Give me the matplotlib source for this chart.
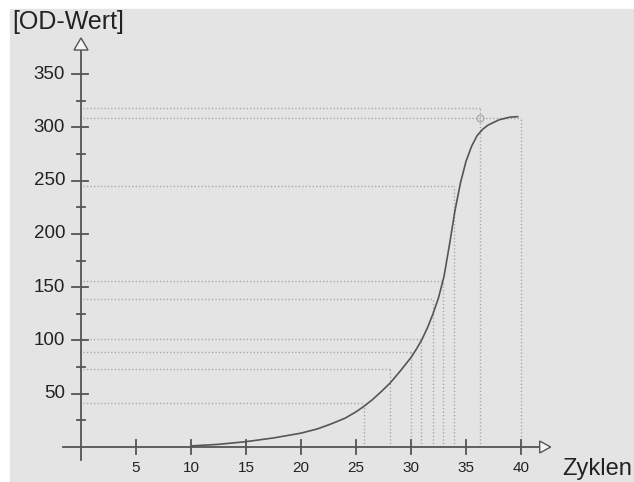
import matplotlib
matplotlib.use("Agg")
import matplotlib.pyplot as plt
from matplotlib.patches import Rectangle, Polygon

# traced curve (Zyklen vs OD-Wert)
cycles = [10, 12.5, 15, 17.5, 20, 21.5, 22.7, 24.0, 25.0, 25.7, 26.5, 27.3, 28.1,
          29.0, 30.0, 30.5, 31.0, 31.5, 32.0, 32.5, 33.0, 33.5, 34.0, 34.5,
          35.0, 35.5, 36.0, 36.5, 37.0, 38.0, 39.0, 39.7]
od = [1, 2.5, 5, 8.5, 13, 17, 21.5, 27, 33, 38, 44.5, 52, 60,
      71, 84, 92, 101, 112, 125, 140, 160, 190, 222, 248,
      268, 282, 292, 298, 302, 307, 309.5, 310]

# dotted reference lines: (x on Zyklen axis, y on OD axis)
ref_x = [25.7, 28.1, 30.0, 30.9, 32.0, 32.9, 33.9, 36.3, 40.0]
ref_y = [41, 73, 89, 101, 139, 156, 245, 318, 309]

y_major = [50, 100, 150, 200, 250, 300, 350]
y_minor = [25, 75, 125, 175, 225, 275, 325]
x_major = [5, 10, 15, 20, 25, 30, 35, 40]

W, H = 634, 482
fig = plt.figure(figsize=(W / 100, H / 100), dpi=100)
plt.rcParams['font.family'] = ['Liberation Sans', 'DejaVu Sans']

fig.patches.append(Rectangle((10 / W, 0), 1 - 10 / W, 1 - 9 / H,
                             transform=fig.transFigure, color='#e4e4e4', zorder=-5))

ax = fig.add_axes([0, 0, 1, 1])
ax.set_axis_off()
ax.patch.set_visible(False)
ax.set_zorder(1)

# pixel -> data mapping
sx = 11.0
sy = 373 / 350
x0px, y0px = 81, 447
ax.set_xlim(-x0px / sx, (W - x0px) / sx)
ax.set_ylim(-(H - y0px) / sy, y0px / sy)

axc = '#555555'
dotc = '#a4a4a4'
dots = (0, (0.9, 1.6))

for x, y in zip(ref_x, ref_y):
    ax.plot([0.2, x], [y, y], color=dotc, lw=1.0, ls=dots, zorder=2)
    ax.plot([x, x], [0, y], color=dotc, lw=1.0, ls=dots, zorder=2)
ax.plot([36.3], [309], marker='o', ms=5, mfc='none', mec=dotc, mew=0.8, zorder=2)

ax.plot(cycles, od, color=axc, lw=1.2, zorder=4)

# axes with open arrow heads
ax.plot([-1.6, 41.7], [0, 0], color=axc, lw=1.3, zorder=3)
ax.plot([0, 0], [-12.2, 372.5], color=axc, lw=1.3, zorder=3)
ax.add_patch(Polygon([[0, 383.8], [-0.64, 372.5], [0.64, 372.5]], closed=True,
                     fc='#f4f4f4', ec=axc, lw=1.0, zorder=5))
ax.add_patch(Polygon([[42.7, 0], [41.7, 5.6], [41.7, -5.6]], closed=True,
                     fc='#f4f4f4', ec=axc, lw=1.0, zorder=5))

for v in y_major:
    ax.plot([-0.8, 0.6], [v, v], color=axc, lw=1.3, zorder=3)
    ax.text(-1.45, v, str(v), ha='right', va='center', fontsize=13.5, color='#222222')
for v in y_minor:
    ax.plot([-0.4, 0.35], [v, v], color=axc, lw=1.3, zorder=3)
for v in x_major:
    ax.plot([v, v], [-7, 7], color=axc, lw=1.3, zorder=3)
    ax.text(v, -23.5, str(v), ha='center', va='baseline', fontsize=11, color='#222222')

fig.text(12 / W, 1 - 29 / H, '[OD-Wert]', ha='left', va='baseline', fontsize=18, color='#222222')
ax.text((562 - x0px) / sx, -(475 - y0px) / sy, 'Zyklen', ha='left', va='baseline',
        fontsize=17, color='#222222')

fig.savefig('out.png', dpi=100)
